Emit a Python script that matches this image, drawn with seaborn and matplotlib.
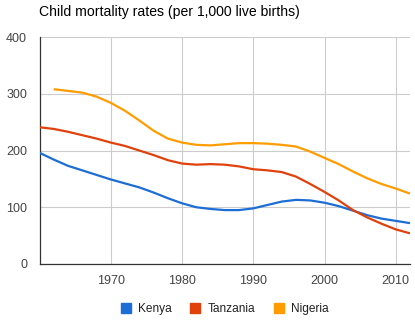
import matplotlib
matplotlib.use("Agg")
import matplotlib.pyplot as plt
from matplotlib.patches import Patch
import seaborn as sns
import pandas as pd

# Under-five mortality per 1,000 live births, every second year
kenya_years = list(range(1960, 2013, 2))
kenya_vals = [196, 184, 173, 165, 157, 149, 142, 135, 126, 116, 107, 100, 97, 95,
              95, 98, 104, 110, 113, 112, 108, 102, 94, 86, 80, 76, 72]

tanzania_years = list(range(1960, 2013, 2))
tanzania_vals = [241, 238, 233, 227, 221, 214, 208, 200, 192, 183, 177, 175, 176, 175,
                 172, 167, 165, 162, 154, 141, 127, 112, 95, 82, 71, 61, 54]

nigeria_years = list(range(1962, 2013, 2))
nigeria_vals = [308, 305, 302, 295, 284, 270, 253, 235, 221, 214, 210, 209, 211,
                213, 213, 212, 210, 207, 198, 187, 176, 163, 151, 141, 133, 124]

countries = ["Kenya", "Tanzania", "Nigeria"]
colors = ["#1c6dd5", "#e1410b", "#ff9c00"]
x_ticks = [1970, 1980, 1990, 2000, 2010]
y_ticks = [0, 100, 200, 300, 400]
title = "Child mortality rates (per 1,000 live births)"

frames = []
for name, yrs, vals in [("Kenya", kenya_years, kenya_vals),
                        ("Tanzania", tanzania_years, tanzania_vals),
                        ("Nigeria", nigeria_years, nigeria_vals)]:
    frames.append(pd.DataFrame({"year": yrs, "rate": vals, "country": name}))
df = pd.concat(frames, ignore_index=True)

sns.set_style("white")
plt.rcParams["font.family"] = ["Liberation Sans", "DejaVu Sans"]

fig = plt.figure(figsize=(4.15, 3.24), dpi=100)
ax = fig.add_axes([39.5 / 415, 60 / 324, 370.5 / 415, 227 / 324])

sns.lineplot(data=df, x="year", y="rate", hue="country", hue_order=countries,
             palette=colors, linewidth=1.6, legend=False, ax=ax,
             solid_joinstyle="round", solid_capstyle="butt", zorder=3)

ax.set_xlim(1960, 2012)
ax.set_ylim(0, 400)
ax.set_xticks(x_ticks)
ax.set_yticks(y_ticks)
ax.set_xlabel("")
ax.set_ylabel("")
ax.grid(True, color="#cccccc", linewidth=0.8, zorder=0)
ax.set_axisbelow(True)
for side in ["top", "right"]:
    ax.spines[side].set_visible(False)
for side in ["left", "bottom"]:
    ax.spines[side].set_color("#333333")
    ax.spines[side].set_linewidth(0.9)
ax.tick_params(axis="both", length=0, labelsize=9, colors="#444444")
ax.tick_params(axis="y", pad=9)
ax.tick_params(axis="x", pad=8)

fig.text(39 / 415, 1 - 12 / 324, title, fontsize=10.1, color="#000000",
         ha="left", va="center")

handles = [Patch(facecolor=c, edgecolor=c, label=n) for n, c in zip(countries, colors)]
fig.legend(handles=handles, loc="center", bbox_to_anchor=(224.75 / 415, 1 - 309 / 324),
           ncol=3, frameon=False, fontsize=8.6, handlelength=0.85, handleheight=0.85,
           handletextpad=0.6, columnspacing=1.55, labelcolor="#222222")

fig.savefig("out.png", dpi=100)
